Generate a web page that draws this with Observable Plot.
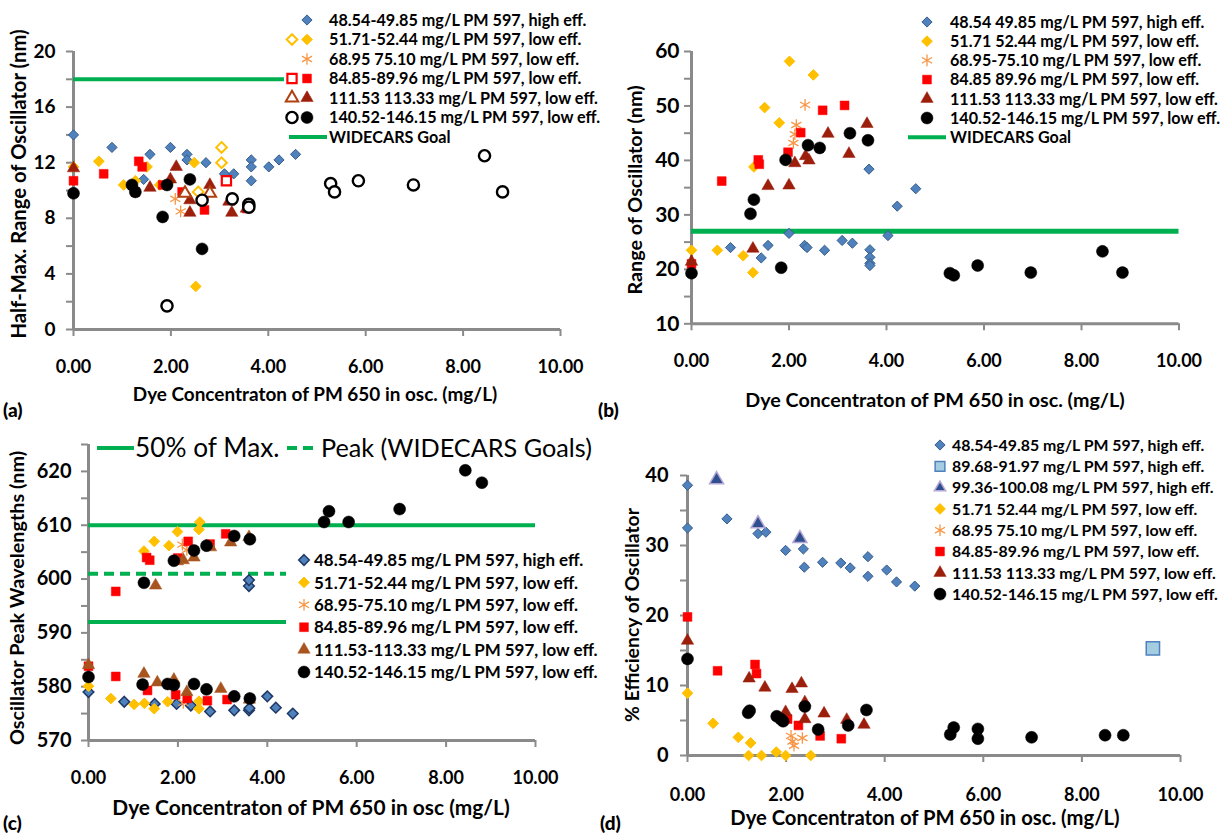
<!DOCTYPE html>
<html><head><meta charset="utf-8">
<script src="https://cdn.jsdelivr.net/npm/d3@7"></script>
<script src="https://cdn.jsdelivr.net/npm/@observablehq/plot@0.6"></script>
<style>
body{margin:0;background:#fff;}
#root{position:relative;width:1225px;height:834px;overflow:hidden;font-family:Lato,"Open Sans",sans-serif;color:#000;}
.abs{position:absolute;}
.ytitle{position:absolute;transform:translate(-50%,-50%) rotate(-90deg);white-space:nowrap;font-weight:bold;line-height:1;}
.xtitle{position:absolute;transform:translate(-50%,-50%);white-space:nowrap;font-weight:bold;line-height:1;}
.plab{position:absolute;transform:translate(0,-50%);font-weight:900;font-size:19px;line-height:1;}
</style></head><body><div id="root"></div><script>
// ---------- shared ----------
const xTicks = [0, 2, 4, 6, 8, 10];
const xTitleA = "Dye Concentraton of PM 650 in osc. (mg/L)";
const xTitleC = "Dye Concentraton of PM 650 in osc (mg/L)";

// ---------- panel (a): Half-Max. Range of Oscillator ----------
const aYTicks = [0, 4, 8, 12, 16, 20];
const aYMinor = [2, 6, 10, 14, 18];
const aGoal = [18];
const aHigh48 = [[0,14.0],[0.79,13.1],[1.44,10.8],[1.57,12.6],[1.99,13.1],[2.33,12.6],[2.33,12.2],[2.72,12.0],[3.10,11.2],[3.29,11.2],[3.65,12.2],[3.65,11.7],[3.65,10.7],[4.01,11.7],[4.22,12.2],[4.56,12.6]];
const aLow51 = [[0,11.7],[0.52,12.1],[1.03,10.4],[1.27,10.7],[1.51,11.7],[1.77,10.4],[1.99,10.7],[2.48,12.0],[2.51,3.1]];
const aLow51Open = [[2.56,9.9],[3.04,13.1],[3.04,12.0]];
const aLow68 = [[2.09,9.4],[2.2,8.5]];
const aLow84 = [[0,10.7],[0.62,11.2],[1.27,9.9],[1.34,12.1],[1.41,11.7],[1.83,10.4],[2.23,9.9],[2.69,8.6],[3.56,8.7]];
const aLow84Open = [[3.14,10.7]];
const aLow111 = [[0,11.6],[1.57,10.2],[1.99,10.8],[2.11,11.7],[2.39,9.3],[2.39,8.4],[2.80,10.4],[3.19,9.2],[3.25,8.4],[3.55,8.7]];
const aLow111Open = [[2.29,9.8],[2.80,9.8]];
const aLow140 = [[0,9.8],[1.2,10.4],[1.27,9.9],[1.83,8.1],[1.92,10.4],[2.39,10.8],[2.64,5.8]];
const aLow140Open = [[1.92,1.7],[2.64,9.3],[3.26,9.4],[3.6,9.0],[3.6,8.8],[5.28,10.5],[5.36,9.9],[5.85,10.7],[6.98,10.4],[8.44,12.5],[8.81,9.9]];
const aLegend = ["48.54-49.85 mg/L PM 597, high eff.","51.71-52.44 mg/L PM 597, low eff.","68.95 75.10 mg/L PM 597, low eff.","84.85-89.96 mg/L PM 597, low eff.","111.53 113.33 mg/L PM 597, low eff.","140.52-146.15 mg/L PM 597, low eff.","WIDECARS Goal"];

// ---------- panel (b): Range of Oscillator ----------
const bYTicks = [10, 20, 30, 40, 50, 60];
const bYMinor = [15, 25, 35, 45, 55];
const bGoal = [27];
const bHigh48 = [[0.80,24.0],[1.43,22.1],[1.57,24.4],[2.0,26.6],[2.32,24.4],[2.37,24.0],[2.73,23.5],[3.09,25.3],[3.30,24.8],[3.64,38.4],[3.66,23.6],[3.66,22.2],[3.66,21.1],[3.66,20.7],[4.03,26.2],[4.22,31.6],[4.6,34.8]];
const bLow51 = [[0,23.5],[0.53,23.5],[1.06,22.5],[1.26,19.4],[1.28,38.8],[1.5,49.7],[1.8,46.9],[2.01,58.2],[2.5,55.7]];
const bLow68 = [[2.33,50.2],[2.15,46.5],[2.12,44.8],[2.09,43.2]];
const bLow84 = [[0,21.0],[0.62,36.2],[1.37,40.1],[1.39,39.3],[1.98,41.5],[2.24,45.1],[2.69,49.2],[3.14,50.1]];
const bLow111 = [[0,21.4],[1.26,23.8],[1.57,35.3],[2.0,35.4],[2.12,39.5],[2.34,40.8],[2.41,40.0],[2.80,44.9],[3.23,41.2],[3.60,46.7]];
const bLow140 = [[0,19.3],[1.21,30.2],[1.28,32.8],[1.84,20.3],[1.93,40.1],[2.39,42.8],[2.63,42.3],[3.25,45.0],[3.62,43.7],[5.30,19.3],[5.38,18.9],[5.87,20.7],[6.96,19.4],[8.43,23.3],[8.84,19.4]];
const bLegend = ["48.54 49.85 mg/L PM 597, high eff.","51.71 52.44 mg/L PM 597, low eff.","68.95-75.10 mg/L PM 597, low eff.","84.85 89.96 mg/L PM 597, low eff.","111.53 113.33 mg/L PM 597, low eff.","140.52-146.15 mg/L PM 597, low eff.","WIDECARS Goal"];

// ---------- panel (c): Oscillator Peak Wavelengths ----------
const cYTicks = [570, 580, 590, 600, 610, 620];
const cYMinor = [575, 585, 595, 605, 615, 625];
const cHalfMax = [610, 592];
const cPeak = [601];
const cHigh48 = [[0,579.0],[0.80,577.2],[1.48,576.8],[1.97,576.8],[2.29,576.5],[2.72,575.4],[3.26,575.6],[3.59,575.6],[3.6,576.0],[3.59,598.7],[3.59,599.8],[4.0,578.2],[4.19,576.1],[4.57,575.0]];
const cLow51 = [[0,580.1],[0.5,577.8],[1.02,576.7],[1.25,576.9],[1.47,575.9],[1.77,577.2],[2.47,575.9],[2.47,577.3],[1.24,605.2],[1.47,607.0],[1.8,606.2],[1.99,608.8],[2.49,610.6],[2.47,609.2]];
const cLow68 = [[2.1,606.4],[2.2,605.4],[2.12,577.0]];
const cLow84 = [[0,583.8],[0.61,581.9],[0.61,597.7],[1.32,579.3],[1.3,604.0],[1.37,603.5],[1.95,578.5],[2.21,577.8],[2.23,607.0],[2.0,603.9],[2.66,577.4],[2.72,606.5],[3.07,608.4],[3.1,577.6]];
const cLow111 = [[0,584.0],[1.24,582.4],[1.54,580.8],[1.5,598.8],[1.91,581.3],[1.99,603.3],[2.12,603.5],[2.36,604.0],[2.73,605.9],[2.96,579.6],[3.18,606.8],[3.59,607.8],[2.2,579.0],[3.6,577.6]];
const cLow140 = [[0,581.8],[1.21,580.4],[1.24,599.3],[1.77,580.5],[1.91,603.4],[1.91,580.3],[2.36,605.3],[2.36,580.5],[2.64,606.2],[2.64,579.5],[3.26,608.0],[3.26,578.2],[3.61,607.4],[3.61,577.8],[5.27,610.6],[5.38,612.6],[5.82,610.6],[5.85,582.5],[6.96,613.0],[8.43,620.2],[8.8,617.9]];
const cLegend = ["48.54-49.85 mg/L PM 597, high eff.","51.71-52.44 mg/L PM 597, low eff.","68.95-75.10 mg/L PM 597, low eff.","84.85-89.96 mg/L PM 597, low eff.","111.53-113.33 mg/L PM 597, low eff.","140.52-146.15 mg/L PM 597, low eff."];
const cGoalLegend = ["50% of Max.", "Peak (WIDECARS Goals)"];

// ---------- panel (d): % Efficiency of Oscillator ----------
const dYTicks = [0, 10, 20, 30, 40];
const dYMinor = [5, 15, 25, 35];
const dHigh48 = [[0,38.6],[0,32.5],[0.80,33.8],[1.43,31.7],[1.59,31.9],[1.99,29.3],[2.35,29.5],[2.37,26.9],[2.74,27.6],[3.11,27.5],[3.30,26.8],[3.66,28.4],[3.66,25.6],[4.04,26.5],[4.24,24.8],[4.61,24.2]];
const dHigh89 = [[9.44,15.3]];
const dHigh99 = [[0.59,39.4],[1.43,33.1],[2.28,31.0]];
const dLow51 = [[0,8.9],[0.52,4.6],[1.03,2.6],[1.28,1.8],[1.24,0],[1.5,0],[1.8,0.5],[1.99,0],[2.5,0]];
const dLow68 = [[2.13,2.0],[2.33,2.5],[2.1,2.8],[2.16,1.4]];
const dLow84 = [[0,19.8],[0.61,12.1],[1.37,13.0],[1.40,11.7],[2.03,5.2],[2.25,4.3],[2.69,2.8],[3.12,2.4]];
const dLow111 = [[0,16.4],[1.25,11.0],[1.57,9.7],[1.99,6.2],[2.12,9.5],[2.31,10.3],[2.38,7.6],[2.38,5.2],[2.77,6.0],[3.23,5.1],[3.58,4.4]];
const dLow140 = [[0,13.8],[1.23,6.1],[1.26,6.4],[1.81,5.6],[1.89,5.2],[1.94,4.9],[2.38,7.0],[2.65,3.7],[3.26,4.3],[3.63,6.5],[5.33,3.0],[5.40,4.0],[5.89,3.8],[5.89,2.4],[6.98,2.6],[8.47,2.9],[8.84,2.9]];
const dLegend = ["48.54-49.85 mg/L PM 597, high eff.","89.68-91.97 mg/L PM 597, high eff.","99.36-100.08 mg/L PM 597, high eff.","51.71 52.44 mg/L PM 597, low eff.","68.95 75.10 mg/L PM 597, low eff.","84.85-89.96 mg/L PM 597, low eff.","111.53 113.33 mg/L PM 597, low eff.","140.52-146.15 mg/L PM 597, low eff."];

// ---------- styles ----------
const FONT = "Lato, 'Open Sans', sans-serif";
const GRAY = "#8a8a8a", GREEN = "#00b050";
const S = {
  blue:   {symbol:"diamond2", r:4.6, fill:"#4f81bd", stroke:"#385d8a", sw:1},
  blueC:  {symbol:"diamond2", r:4.8, fill:"#4f81bd", stroke:"#1f3864", sw:1.5},
  yellow: {symbol:"diamond2", r:4.8, fill:"#ffc000", stroke:"#ffc000", sw:1},
  yellowO:{symbol:"diamond2", r:4.8, fill:"#fff", stroke:"#ffc000", sw:2},
  orange: {symbol:"asterisk", r:5.5, fill:"none", stroke:"#f79646", sw:1.3},
  red:    {symbol:"square", r:5, fill:"#ff0000", stroke:"#ff0000", sw:0.5},
  redO:   {symbol:"square", r:5.2, fill:"#fff", stroke:"#ff0000", sw:2.2},
  tri:    {symbol:"triangle", r:4.6, fill:"#9c1f0c", stroke:"#9c1f0c", sw:0.5},
  triO:   {symbol:"triangle", r:4.6, fill:"#fff", stroke:"#b0400f", sw:2},
  triC:   {symbol:"triangle", r:4.6, fill:"#a8541f", stroke:"#a8541f", sw:0.5},
  black:  {symbol:"circle", r:6, fill:"#000", stroke:"#000", sw:0.5},
  blackO: {symbol:"circle", r:5.6, fill:"#fff", stroke:"#000", sw:2.4},
  lblue:  {symbol:"square", r:7.5, fill:"#a5cde2", stroke:"#4f81bd", sw:1.5},
  navy:   {symbol:"triangle", r:5.2, fill:"#2f4f8f", stroke:"#b4a7d6", sw:1.5}
};
const symType = {diamond2:d3.symbolDiamond2, square:d3.symbolSquare, triangle:d3.symbolTriangle, circle:d3.symbolCircle, asterisk:d3.symbolAsterisk};

const root = document.getElementById("root");
const ctx = document.createElement("canvas").getContext("2d");
function fitSize(text, target, weight = "bold") {
  ctx.font = `${weight} 100px Lato`;
  return 100 * target / ctx.measureText(text).width;
}

function dots(data, st) {
  return Plot.dot(data, {x: d => d[0], y: d => d[1], symbol: st.symbol, r: st.r, fill: st.fill, stroke: st.stroke, strokeWidth: st.sw});
}

function panel(cfg) {
  const marks = [
    Plot.ruleY([cfg.yDomain[0]], {x1: 0, x2: 10, stroke: GRAY, strokeWidth: 3}),
    Plot.ruleX([0], {y1: cfg.yDomain[0], y2: cfg.yDomain[1], stroke: GRAY, strokeWidth: 3}),
    Plot.axisX({ticks: xTicks, tickSize: 7, tickPadding: cfg.xPad, tickFormat: d3.format(".2f"), stroke: GRAY, strokeWidth: 2, label: null, fontSize: 18}),
    Plot.axisY({ticks: cfg.yMajor, tickSize: 7, tickPadding: cfg.yPad, tickFormat: d => String(d), stroke: GRAY, strokeWidth: 2, label: null, fontSize: cfg.yFont}),
    Plot.axisY({ticks: cfg.yMinor, tickSize: 7, tickFormat: () => "", stroke: GRAY, strokeWidth: 2, label: null}),
    ...(cfg.extra || []),
    ...cfg.series.map(([data, st]) => dots(data, st))
  ];
  const p = Plot.plot({
    width: cfg.width, height: cfg.height,
    marginLeft: cfg.mL, marginRight: cfg.mR, marginTop: cfg.mT, marginBottom: cfg.mB,
    x: {domain: [0, 10]}, y: {domain: cfg.yDomain},
    style: {fontFamily: FONT, fontSize: "18px", fontWeight: "bold", color: "#000", background: "transparent", overflow: "visible"},
    marks
  });
  p.classList.add("abs");
  p.style.left = cfg.left + "px";
  p.style.top = cfg.top + "px";
  root.appendChild(p);
}

function legend(cfg) {
  const svg = d3.select(root).append("svg").attr("class", "abs")
    .style("left", cfg.left + "px").style("top", cfg.top + "px")
    .attr("width", cfg.width).attr("height", cfg.height);
  if (cfg.bg) svg.append("rect").attr("width", cfg.bgWidth || cfg.width).attr("height", cfg.height).attr("fill", "#fff");
  const fs = fitSize(cfg.rows[0].text, cfg.target, cfg.weight || "bold");
  cfg.rows.forEach((row, i) => {
    const y = cfg.y0 + i * cfg.dy - cfg.top;
    (row.icons || []).forEach(ic => {
      if (ic.line) {
        svg.append("line").attr("x1", ic.x1 - cfg.left).attr("x2", ic.x2 - cfg.left).attr("y1", y).attr("y2", y)
          .attr("stroke", GREEN).attr("stroke-width", ic.w || 4).attr("stroke-dasharray", ic.dash || null);
      } else {
        const st = ic.st;
        svg.append("path").attr("d", d3.symbol(symType[st.symbol], Math.PI * st.r * st.r)())
          .attr("transform", `translate(${ic.x - cfg.left},${y})`)
          .attr("fill", st.fill).attr("stroke", st.stroke).attr("stroke-width", st.sw);
      }
    });
    svg.append("text").attr("x", cfg.textX - cfg.left).attr("y", y).attr("dy", "0.36em")
      .attr("font-family", FONT).attr("font-weight", cfg.weight || "bold")
      .attr("font-size", fs).attr("fill", "#000").text(row.text);
  });
}

function title(cls, text, x, y, target) {
  const d = document.createElement("div");
  d.className = cls; d.textContent = text;
  d.style.left = x + "px"; d.style.top = y + "px";
  if (target) d.style.fontSize = fitSize(text, target) + "px";
  root.appendChild(d);
}

// ---------- draw (a) ----------
panel({left: 0, top: 0, width: 600, height: 420, mL: 73, mR: 40, mT: 51, mB: 91,
  yDomain: [0, 20], yMajor: aYTicks, yMinor: aYMinor, xPad: 24, yPad: 11, yFont: 19,
  extra: [Plot.ruleY(aGoal, {x1: 0, x2: 10, stroke: GREEN, strokeWidth: 4})],
  series: [[aHigh48, S.blue], [aLow51, S.yellow], [aLow51Open, S.yellowO], [aLow68, S.orange],
           [aLow84, S.red], [aLow84Open, S.redO], [aLow111, S.tri], [aLow111Open, S.triO],
           [aLow140, S.black], [aLow140Open, S.blackO]]});
legend({left: 284, top: 8, width: 340, bgWidth: 320, height: 140, bg: true, y0: 20, dy: 19.5, textX: 329, target: 258,
  rows: [
    {text: aLegend[0], icons: [{x: 307, st: S.blue}]},
    {text: aLegend[1], icons: [{x: 292, st: S.yellowO}, {x: 307, st: S.yellow}]},
    {text: aLegend[2], icons: [{x: 307, st: S.orange}]},
    {text: aLegend[3], icons: [{x: 292, st: S.redO}, {x: 307, st: S.red}]},
    {text: aLegend[4], icons: [{x: 292, st: S.triO}, {x: 307, st: S.tri}]},
    {text: aLegend[5], icons: [{x: 292, st: S.blackO}, {x: 307, st: S.black}]},
    {text: aLegend[6], icons: [{line: true, x1: 289, x2: 327, w: 4}]}
  ]});
title("ytitle", "Half-Max. Range of Oscillator (nm)", 18, 184, 310);
title("xtitle", xTitleA, 315, 394, 365);
title("plab", "(a)", 3, 409);

// ---------- draw (b) ----------
panel({left: 600, top: 0, width: 625, height: 420, mL: 91, mR: 46.5, mT: 51, mB: 96.7,
  yDomain: [10, 60], yMajor: bYTicks, yMinor: bYMinor, xPad: 23, yPad: 5, yFont: 21,
  extra: [Plot.ruleY(bGoal, {x1: 0, x2: 10, stroke: GREEN, strokeWidth: 5})],
  series: [[bHigh48, S.blue], [bLow51, S.yellow], [bLow68, S.orange], [bLow84, S.red], [bLow111, S.tri], [bLow140, S.black]]});
legend({left: 900, top: 8, width: 325, height: 140, bg: false, y0: 22, dy: 19.2, textX: 950, target: 255,
  rows: [
    {text: bLegend[0], icons: [{x: 927, st: S.blue}]},
    {text: bLegend[1], icons: [{x: 927, st: S.yellow}]},
    {text: bLegend[2], icons: [{x: 927, st: S.orange}]},
    {text: bLegend[3], icons: [{x: 927, st: S.red}]},
    {text: bLegend[4], icons: [{x: 927, st: S.tri}]},
    {text: bLegend[5], icons: [{x: 927, st: S.black}]},
    {text: bLegend[6], icons: [{line: true, x1: 908, x2: 946, w: 4}]}
  ]});
title("ytitle", "Range of Oscillator (nm)", 635, 190, 210);
title("xtitle", xTitleA, 935, 400, 380);
title("plab", "(b)", 598, 409);

// ---------- draw (c) ----------
panel({left: 0, top: 420, width: 600, height: 414, mL: 88, mR: 65, mT: 24, mB: 94,
  yDomain: [570, 625], yMajor: cYTicks, yMinor: cYMinor, xPad: 24, yPad: 10, yFont: 20,
  extra: [Plot.ruleY(cHalfMax, {x1: 0, x2: 10, stroke: GREEN, strokeWidth: 4}),
          Plot.ruleY(cPeak, {x1: 0, x2: 10, stroke: GREEN, strokeWidth: 4, strokeDasharray: "10,6"})],
  series: [[cHigh48, S.blueC], [cLow51, S.yellow], [cLow68, S.orange], [cLow84, S.red], [cLow111, S.triC], [cLow140, S.black]]});
legend({left: 286, top: 547, width: 330, bgWidth: 314, height: 137, bg: true, y0: 560, dy: 22.4, textX: 314, target: 270,
  rows: [
    {text: cLegend[0], icons: [{x: 304, st: S.blueC}]},
    {text: cLegend[1], icons: [{x: 304, st: S.yellow}]},
    {text: cLegend[2], icons: [{x: 304, st: S.orange}]},
    {text: cLegend[3], icons: [{x: 304, st: S.red}]},
    {text: cLegend[4], icons: [{x: 304, st: S.triC}]},
    {text: cLegend[5], icons: [{x: 304, st: S.black}]}
  ]});
legend({left: 90, top: 430, width: 200, height: 36, bg: false, y0: 448, dy: 0, textX: 135, target: 145, weight: "normal",
  rows: [{text: cGoalLegend[0], icons: [{line: true, x1: 97, x2: 134, w: 4}]}]});
legend({left: 280, top: 430, width: 320, height: 36, bg: false, y0: 448, dy: 0, textX: 321, target: 271, weight: "normal",
  rows: [{text: cGoalLegend[1], icons: [{line: true, x1: 287, x2: 318, w: 4, dash: "10,6"}]}]});
title("ytitle", "Oscillator Peak Wavelengths (nm)", 17, 598, 295);
title("xtitle", xTitleC, 311, 807, 398);
title("plab", "(c)", 3, 822);

// ---------- draw (d) ----------
panel({left: 600, top: 420, width: 625, height: 414, mL: 87, mR: 45, mT: 55, mB: 79,
  yDomain: [0, 40], yMajor: dYTicks, yMinor: dYMinor, xPad: 26, yPad: 12, yFont: 20,
  series: [[dHigh48, S.blue], [dHigh89, S.lblue], [dHigh99, S.navy], [dLow51, S.yellow], [dLow68, S.orange],
           [dLow84, S.red], [dLow111, S.tri], [dLow140, S.black]]});
legend({left: 925, top: 432, width: 300, height: 175, bg: false, y0: 445, dy: 21.3, textX: 952, target: 253,
  rows: [
    {text: dLegend[0], icons: [{x: 940, st: S.blue}]},
    {text: dLegend[1], icons: [{x: 940, st: Object.assign({}, S.lblue, {r: 5.5})}]},
    {text: dLegend[2], icons: [{x: 940, st: Object.assign({}, S.navy, {r: 4.2})}]},
    {text: dLegend[3], icons: [{x: 940, st: S.yellow}]},
    {text: dLegend[4], icons: [{x: 940, st: S.orange}]},
    {text: dLegend[5], icons: [{x: 940, st: S.red}]},
    {text: dLegend[6], icons: [{x: 940, st: S.tri}]},
    {text: dLegend[7], icons: [{x: 940, st: S.black}]}
  ]});
title("ytitle", "% Efficiency of Oscillator", 632, 615, 215);
title("xtitle", xTitleA, 925, 817, 390);
title("plab", "(d)", 600, 822);
</script></body></html>
